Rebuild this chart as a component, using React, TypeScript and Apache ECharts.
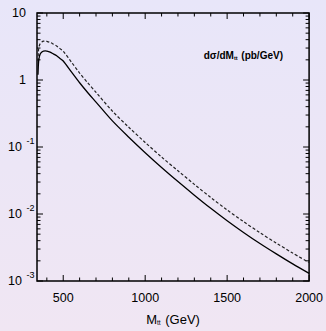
import React, { useEffect, useRef } from "react";
import * as echarts from "echarts";

const massGeV = [346, 348, 350, 355, 360, 370, 380, 390, 400, 420, 440, 460, 480, 500, 550, 600, 650, 700, 800, 900, 1000, 1100, 1200, 1300, 1400, 1500, 1600, 1700, 1800, 1900, 2000];
const solidXsec = [1.2, 1.6, 1.9, 2.25, 2.45, 2.62, 2.7, 2.72, 2.7, 2.6, 2.45, 2.3, 2.1, 1.92, 1.32, 0.91, 0.646, 0.468, 0.245, 0.14, 0.0822, 0.0495, 0.0305, 0.0191, 0.01216, 0.00794, 0.00531, 0.00363, 0.00254, 0.0018, 0.0013];
const dashedXsec = [1.9, 2.5, 2.9, 3.3, 3.5, 3.7, 3.8, 3.82, 3.78, 3.64, 3.43, 3.22, 2.94, 2.69, 1.85, 1.27, 0.904, 0.655, 0.343, 0.197, 0.117, 0.0708, 0.0442, 0.0277, 0.01763, 0.01151, 0.0077, 0.00526, 0.00368, 0.00261, 0.00189];

const xLabelValues = [500, 1000, 1500, 2000];
const xMajorTicks = [500, 1000, 1500, 2000];
const xMinorTicks = [400, 600, 700, 800, 900, 1100, 1200, 1300, 1400, 1600, 1700, 1800, 1900];
const yMajorTicks = [0.001, 0.01, 0.1, 1, 10];
const yMinorTicks: number[] = [];
[0.001, 0.01, 0.1, 1].forEach((d) => {
  for (let k = 2; k <= 9; k++) yMinorTicks.push(+(d * k).toPrecision(3));
});

const yLabelText: Record<string, string> = {
  "10": "{b|10}{s|}",
  "1": "{b|1}{s|}",
  "0.1": "{b|10}{g|}{e|-1}",
  "0.01": "{b|10}{g|}{e|-2}",
  "0.001": "{b|10}{g|}{e|-3}",
};

export default function App() {
  const ref = useRef<HTMLDivElement>(null);
  useEffect(() => {
    if (!ref.current) return;
    const chart = echarts.init(ref.current, null, { renderer: "svg" });
    const tickData: number[][] = [
      ...xMajorTicks.map((v) => [v, 1, 0]),
      ...xMinorTicks.map((v) => [v, 1, 1]),
      ...yMajorTicks.map((v) => [1000, v, 2]),
      ...yMinorTicks.map((v) => [1000, v, 3]),
    ];
    const font = "Liberation Sans, Arial, sans-serif";
    chart.setOption({
      animation: false,
      backgroundColor: new echarts.graphic.LinearGradient(0, 0, 0, 1, [
        { offset: 0, color: "#e8e6f9" },
        { offset: 1, color: "#f0e6f3" },
      ]),
      grid: {
        left: 37,
        right: 16,
        top: 13,
        bottom: 46,
        show: true,
        borderColor: "#000",
        borderWidth: 1.5,
        backgroundColor: "transparent",
      },
      xAxis: {
        type: "value",
        min: 340,
        max: 2000,
        axisLine: { show: false },
        axisTick: { show: false },
        splitLine: { show: false },
        axisLabel: {
          customValues: xLabelValues,
          formatter: (v: number) => String(v),
          color: "#000",
          fontSize: 12.5,
          fontFamily: font,
          margin: 10,
        },
        name: "M{sub|tt} (GeV)",
        nameLocation: "middle",
        nameGap: 32,
        nameTextStyle: {
          color: "#000",
          fontSize: 13,
          fontFamily: font,
          rich: {
            sub: { fontSize: 6.5, fontFamily: font, color: "#000", padding: [6, 1, 0, 0] },
          },
        },
      },
      yAxis: {
        type: "log",
        logBase: 10,
        min: 0.001,
        max: 10,
        axisLine: { show: false },
        axisTick: { show: false },
        splitLine: { show: false },
        axisLabel: {
          margin: 2,
          formatter: (v: number) => yLabelText[String(+v.toPrecision(3))] || "",
          rich: {
            b: { fontSize: 12.5, fontFamily: font, color: "#000" },
            s: { width: 9 },
            g: { width: 4 },
            e: { fontSize: 9, fontFamily: font, color: "#000", padding: [0, 0, 12, 0], width: 9, align: "left" },
          },
        },
      },
      graphic: [
        {
          type: "text",
          x: 283,
          y: 55,
          style: {
            text: "dσ/dM{sub|tt} (pb/GeV)",
            align: "right",
            verticalAlign: "middle",
            fill: "#000",
            font: "bold 10px Liberation Sans, Arial, sans-serif",
            rich: {
              sub: { fontSize: 5.5, fontWeight: "bold", fontFamily: font, fill: "#000", padding: [5, 1, 0, 0] },
            },
          },
        },
      ],
      series: [
        {
          type: "line",
          data: massGeV.map((m, i) => [m, dashedXsec[i]]),
          showSymbol: false,
          smooth: 0.3,
          lineStyle: { color: "#222", width: 1.2, type: [3, 2] },
          silent: true,
        },
        {
          type: "line",
          data: massGeV.map((m, i) => [m, solidXsec[i]]),
          showSymbol: false,
          smooth: 0.3,
          lineStyle: { color: "#000", width: 1.3 },
          silent: true,
        },
        {
          type: "custom",
          silent: true,
          dimensions: ["x", "y", "kind"],
          encode: { x: 0, y: 1 },
          data: tickData,
          renderItem: (params: any, api: any) => {
            const kind = api.value(2);
            const cs = params.coordSys;
            const style = { stroke: "#000", lineWidth: 1 };
            if (kind < 2) {
              const px = api.coord([api.value(0), 1])[0];
              const len = kind === 0 ? 6 : 3.5;
              const yb = cs.y + cs.height;
              return {
                type: "group",
                children: [
                  { type: "line", shape: { x1: px, y1: yb, x2: px, y2: yb - len }, style },
                  { type: "line", shape: { x1: px, y1: cs.y, x2: px, y2: cs.y + len }, style },
                ],
              };
            }
            const py = api.coord([1000, api.value(1)])[1];
            const len = kind === 2 ? 6 : 3.5;
            const xr = cs.x + cs.width;
            return {
              type: "group",
              children: [
                { type: "line", shape: { x1: cs.x, y1: py, x2: cs.x + len, y2: py }, style },
                { type: "line", shape: { x1: xr, y1: py, x2: xr - len, y2: py }, style },
              ],
            };
          },
        },
      ],
    });
    return () => chart.dispose();
  }, []);
  return (
    <div
      ref={ref}
      style={{ position: "fixed", left: 0, top: 0, width: 326, height: 331 }}
    />
  );
}
